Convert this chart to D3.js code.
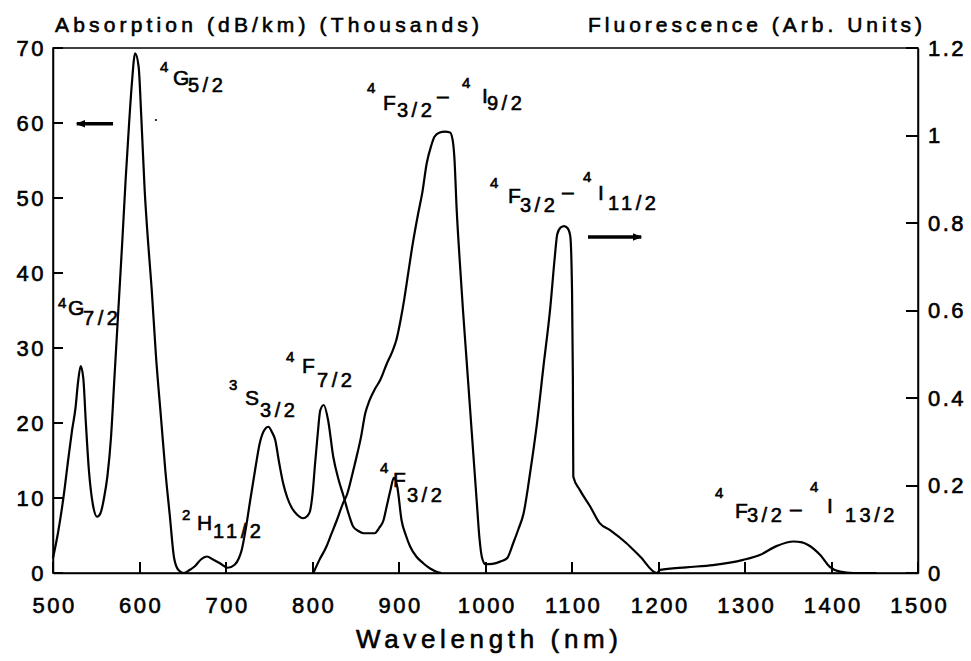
<!DOCTYPE html>
<html>
<head>
<meta charset="utf-8">
<script src="https://cdn.jsdelivr.net/npm/d3@7.9.0/dist/d3.min.js"></script>
<style>
  body { margin: 0; background: #fff; }
  svg text { font-family: "Liberation Sans", Arial, sans-serif; fill: #000; stroke: #000; stroke-width: 0.6px; }
</style>
</head>
<body>
<svg id="chart" width="971" height="661"></svg>
<script>
// Absorption spectrum (left axis, thousands of dB/km)
const absWavelength = [500, 506, 512, 518, 522, 526, 529, 532, 535, 538, 541.5, 546, 551, 555, 559, 563, 567, 571, 575, 580,
  584, 588, 591, 595, 599, 602, 606, 610, 614, 619, 625, 630, 635, 640, 645, 651, 658, 664, 671, 678,
  685, 693, 702, 710, 715, 718, 723, 728, 734, 739, 744, 749, 753, 757, 761, 766, 771, 776, 782, 789,
  794, 797, 800, 803, 806, 809, 813, 818, 824, 830, 836, 842, 847, 853, 859, 866, 872, 877, 882, 886,
  890, 894, 898, 903, 908, 913, 920, 928, 936, 945, 949];
const absValue = [2.0, 5.5, 10, 15.5, 19, 22, 25.5, 27.6, 26, 20, 13.7, 9.2, 7.5, 8, 10, 13, 18, 26, 34, 44,
  52.5, 60, 65, 69.3, 67.5, 61, 51, 44, 38, 29, 20.5, 13.5, 7.7, 2, 0.4, 0, 0.4, 0.9, 1.8, 2.2,
  1.8, 1.3, 0.7, 1.1, 2, 3, 6, 9.7, 14, 17.3, 19, 19.5, 18.8, 17.7, 15, 12, 10, 8.7, 7.8, 7.3,
  7.6, 8.2, 10.5, 14.6, 18.5, 21.7, 22.4, 20.4, 15.5, 12.5, 10.2, 7.8, 6.2, 5.6, 5.3, 5.3, 5.3, 6, 7, 9,
  11, 12.7, 11.5, 7, 5, 3.5, 2.2, 1.3, 0.6, 0.1, 0];

// Fluorescence spectrum (right axis, arbitrary units)
const fluWavelength = [801, 808, 816, 822, 828, 835, 840, 846, 851, 856, 861, 866, 872, 878, 886, 892, 897, 902, 906, 911,
  916, 922, 927, 932, 937, 941, 947, 953, 959, 962, 964, 966.7, 970, 974, 978, 982, 986, 990, 993, 996,
  1000, 1008, 1017, 1025, 1032, 1038, 1044, 1051.5, 1059, 1067, 1075, 1080, 1083, 1087, 1091, 1095, 1098, 1100, 1101, 1101.5,
  1109, 1121, 1132, 1144, 1163, 1179, 1198, 1202, 1232, 1263, 1298, 1317, 1337, 1356, 1366, 1373, 1387, 1398, 1410, 1425, 1452];
const fluValue = [0, 0.03, 0.06, 0.09, 0.12, 0.158, 0.18, 0.225, 0.266, 0.31, 0.365, 0.395, 0.42, 0.44, 0.479, 0.505, 0.533, 0.58, 0.625, 0.69,
  0.754, 0.82, 0.87, 0.936, 0.975, 0.997, 1.007, 1.009, 1.007, 0.99, 0.95, 0.83, 0.72, 0.6, 0.49, 0.38, 0.27, 0.16, 0.08, 0.035,
  0.02, 0.021, 0.026, 0.034, 0.068, 0.1, 0.136, 0.228, 0.334, 0.472, 0.609, 0.72, 0.775, 0.79, 0.793, 0.788, 0.77, 0.65, 0.45, 0.22,
  0.19, 0.152, 0.114, 0.098, 0.068, 0.037, 0, 0.007, 0.013, 0.018, 0.03, 0.041, 0.062, 0.072, 0.07, 0.064, 0.041, 0.014, 0.003, 0, 0];

const xTicks = [500, 600, 700, 800, 900, 1000, 1100, 1200, 1300, 1400, 1500];
const leftTicks = [0, 10, 20, 30, 40, 50, 60, 70];
const rightTicks = [0, 0.2, 0.4, 0.6, 0.8, 1, 1.2];
const rightTickLabels = ['0', '0.2', '0.4', '0.6', '0.8', '1', '1.2'];

// Level labels: pieces are [text, role]
const labelPieces = [
  [['4', 'sup'], ['G', 'main'], ['5/2', 'sub']],
  [['4', 'sup'], ['G', 'main'], ['7/2', 'sub']],
  [['4', 'sup'], ['F', 'main'], ['3/2', 'sub'], ['\u2013', 'main'], ['4', 'sup'], ['I', 'main'], ['9/2', 'sub']],
  [['4', 'sup'], ['F', 'main'], ['3/2', 'sub'], ['\u2013', 'main'], ['4', 'sup'], ['I', 'main'], ['11/2', 'sub']],
  [['3', 'sup'], ['S', 'main'], ['3/2', 'sub']],
  [['4', 'sup'], ['F', 'main'], ['7/2', 'sub']],
  [['2', 'sup'], ['H', 'main'], ['11/2', 'sub']],
  [['4', 'sup'], ['F', 'main'], ['3/2', 'sub']],
  [['4', 'sup'], ['F', 'main'], ['3/2', 'sub'], ['\u2013', 'main'], ['4', 'sup'], ['I', 'main'], ['13/2', 'sub']]
];
// label anchor in data units (wavelength, absorption)
const labelNm = [623.7, 505.8, 863, 1005.2, 703.5, 769.4, 649.1, 878, 1265.3];
const labelAbs = [65.07, 34.4, 61.73, 49.33, 22.4, 26.67, 5.73, 11.47, 7.33];

// layout offsets of each piece from the anchor (px)
const pieceOffsets = [
  [[0, -13], [13, 0], [28, 7]],
  [[0, -7], [10, 0], [25, 10]],
  [[0, -17], [16, 0], [30, 7], [70, -7], [95, -22], [115, -7], [120, 0]],
  [[0, -15], [18, 0], [30, 9], [72, -4], [93, -21], [108, -3], [118, 7]],
  [[0, -15], [16, 0], [31, 12]],
  [[0, -11], [16, 0], [31, 14]],
  [[0, -10], [15, 0], [31, 8]],
  [[0, -14], [13, 0], [27, 15]],
  [[0, -20], [20, 0], [32, 4], [75, -2], [95, -26], [112, -5], [130, 4]]
];

// arrows pointing to the relevant axis (wavelength from -> to, absorption level)
const arrowFrom = [569.4, 1118.5];
const arrowTo = [527.5, 1180];
const arrowAbs = [59.9, 44.8];

const svg = d3.select('#chart');
const plotLeft = 53, plotRight = 918, plotTop = 48, plotBottom = 573;

const x = d3.scaleLinear().domain([500, 1500]).range([plotLeft, plotRight]);
const yAbs = d3.scaleLinear().domain([0, 70]).range([plotBottom, plotTop]);
const yFlu = d3.scaleLinear().domain([0, 1.2]).range([plotBottom, plotTop]);

// frame
svg.append('rect')
  .attr('x', plotLeft).attr('y', plotTop)
  .attr('width', plotRight - plotLeft).attr('height', plotBottom - plotTop)
  .attr('fill', 'none').attr('stroke', '#000').attr('stroke-width', 1.5);

// axes (labels from d3 axes, tick marks drawn inward below)
const tickFont = g => g.selectAll('text')
  .attr('font-size', 22)
  .attr('letter-spacing', 2.5)
  .style('font-family', '"Liberation Sans", Arial, sans-serif');

const xAxis = svg.append('g')
  .attr('transform', `translate(0,${plotBottom})`)
  .call(d3.axisBottom(x).tickValues(xTicks).tickFormat(d3.format('d'))
    .tickSize(0).tickPadding(24));
xAxis.call(tickFont);
xAxis.selectAll('text').attr('dx', '1.2');

const leftAxis = svg.append('g')
  .attr('transform', `translate(${plotLeft},0)`)
  .call(d3.axisLeft(yAbs).tickValues(leftTicks)
    .tickSize(0).tickPadding(7));
leftAxis.call(tickFont);

const rightAxis = svg.append('g')
  .attr('transform', `translate(${plotRight},0)`)
  .call(d3.axisRight(yFlu).tickValues(rightTicks)
    .tickFormat((d, i) => rightTickLabels[i])
    .tickSize(0).tickPadding(10));
rightAxis.call(tickFont);

svg.selectAll('.domain').attr('stroke', '#000').attr('stroke-width', 1.5);

// inward tick marks
const tickMarks = svg.append('g')
  .attr('stroke', '#000')
  .attr('stroke-width', 2)
  .attr('shape-rendering', 'crispEdges');
tickMarks.selectAll('line.xt').data(xTicks).join('line')
  .attr('class', 'xt')
  .attr('x1', d => x(d)).attr('x2', d => x(d))
  .attr('y1', plotBottom).attr('y2', plotBottom - 11);
tickMarks.selectAll('line.lt').data(leftTicks).join('line')
  .attr('class', 'lt')
  .attr('x1', plotLeft).attr('x2', plotLeft + 10)
  .attr('y1', d => yAbs(d)).attr('y2', d => yAbs(d));
tickMarks.selectAll('line.rt').data(rightTicks).join('line')
  .attr('class', 'rt')
  .attr('x1', plotRight).attr('x2', plotRight - 12)
  .attr('y1', d => yFlu(d)).attr('y2', d => yFlu(d));

// axis titles
svg.append('text')
  .attr('x', 55).attr('y', 32)
  .attr('font-size', 21)
  .attr('textLength', 424).attr('lengthAdjust', 'spacing')
  .text('Absorption (dB/km) (Thousands)');

svg.append('text')
  .attr('x', 588).attr('y', 32)
  .attr('font-size', 21)
  .attr('textLength', 334).attr('lengthAdjust', 'spacing')
  .text('Fluorescence (Arb. Units)');

svg.append('text')
  .attr('x', 356).attr('y', 648)
  .attr('font-size', 26)
  .attr('textLength', 262).attr('lengthAdjust', 'spacing')
  .text('Wavelength (nm)');

// curves
const absData = absWavelength.map((w, i) => [w, absValue[i]]);
const fluData = fluWavelength.map((w, i) => [w, fluValue[i]]);

const absLine = d3.line()
  .x(d => x(d[0]))
  .y(d => yAbs(d[1]))
  .curve(d3.curveMonotoneX);

const fluLine = d3.line()
  .x(d => x(d[0]))
  .y(d => yFlu(d[1]))
  .curve(d3.curveMonotoneX);

svg.append('path')
  .datum(absData)
  .attr('d', absLine)
  .attr('fill', 'none')
  .attr('stroke', '#000')
  .attr('stroke-width', 2.2)
  .attr('stroke-linejoin', 'round');

svg.append('path')
  .datum(fluData)
  .attr('d', fluLine)
  .attr('fill', 'none')
  .attr('stroke', '#000')
  .attr('stroke-width', 2.2)
  .attr('stroke-linejoin', 'round');

// arrows
const defs = svg.append('defs');
defs.append('marker')
  .attr('id', 'head')
  .attr('viewBox', '0 0 10 10')
  .attr('refX', 9).attr('refY', 5)
  .attr('markerWidth', 3).attr('markerHeight', 2.6)
  .attr('orient', 'auto')
  .append('path')
  .attr('d', 'M0,1 L10,5 L0,9 Z')
  .attr('fill', '#000');

arrowFrom.forEach((f, i) => {
  svg.append('line')
    .attr('x1', x(f)).attr('y1', yAbs(arrowAbs[i]))
    .attr('x2', x(arrowTo[i])).attr('y2', yAbs(arrowAbs[i]))
    .attr('stroke', '#000')
    .attr('stroke-width', 3.5)
    .attr('marker-end', 'url(#head)');
});

// stray speck in the original figure
svg.append('circle')
  .attr('cx', x(619)).attr('cy', yAbs(60.4))
  .attr('r', 1.1).attr('fill', '#000');

// level labels
const roleSize = { sup: 15, main: 21, sub: 20 };
const roleSpacing = { sup: 0, main: 0, sub: 3.5 };

labelPieces.forEach((pieces, i) => {
  const ax = x(labelNm[i]);
  const ay = yAbs(labelAbs[i]);
  const g = svg.append('g').attr('class', 'level-label');
  pieces.forEach(([t, role], j) => {
    const [dx, dy] = pieceOffsets[i][j];
    g.append('text')
      .attr('x', ax + dx)
      .attr('y', ay + dy)
      .attr('font-size', roleSize[role])
      .attr('letter-spacing', roleSpacing[role])
      .text(t);
  });
});
</script>
</body>
</html>
